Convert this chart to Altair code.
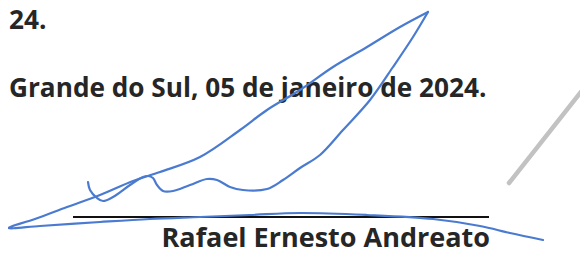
import altair as alt
import pandas as pd

# Blue signature, stroke A: long upper line down to the left tip, then the bottom sweep
sig_a_x = [428, 400, 367, 333, 300, 267, 240, 200, 160, 133, 100, 67, 35, 8,
           40, 100, 150, 200, 250, 300, 367, 433, 480, 510, 543]
sig_a_y = [12, 27, 47, 67, 90, 110, 130, 157, 172, 181, 195, 207, 219, 228,
           226, 222, 219, 217, 215, 213, 215, 219, 226, 233, 240]

# Blue signature, stroke B: from the apex down the right side, the waves and the hook
sig_b_x = [428, 413, 393, 370, 343, 320, 300, 283, 267, 243, 230, 217, 207, 190,
           173, 163, 157, 153, 148, 143, 130, 113, 103, 97, 90, 88]
sig_b_y = [12, 37, 67, 100, 130, 155, 168, 180, 189, 190, 187, 180, 179, 185,
           191, 191, 185, 178, 176, 177, 185, 197, 201, 198, 190, 182]

# Grey pencil stroke at the right
gray_x = [592, 509]
gray_y = [78, 183]

# Signature rule
rule_x = [73, 489]
rule_y = [217, 217]

# Left-aligned texts (date line) and the right-aligned name under the rule
left_texts = ["24.", "Grande do Sul, 05 de janeiro de 2024."]
left_x = [9, 9]
left_y = [29, 97]
name_text = ["Rafael Ernesto Andreato"]
name_x = [490]
name_y = [247]

rows = []
for name, xs_, ys_ in [("a", sig_a_x, sig_a_y), ("b", sig_b_x, sig_b_y)]:
    for i, (x, y) in enumerate(zip(xs_, ys_)):
        rows.append({"x": x, "y": y, "stroke": name, "i": i})
sig_df = pd.DataFrame(rows)
gray_df = pd.DataFrame({"x": gray_x, "y": gray_y, "i": range(len(gray_x))})
rule_df = pd.DataFrame({"x": [rule_x[0]], "x2": [rule_x[1]], "y": [rule_y[0]]})
left_df = pd.DataFrame({"t": left_texts, "x": left_x, "y": left_y})
name_df = pd.DataFrame({"t": name_text, "x": name_x, "y": name_y})

xs = alt.Scale(domain=[8, 580], nice=False, zero=False)
ys = alt.Scale(domain=[8, 254], nice=False, zero=False, reverse=True)
X = alt.X("x:Q", scale=xs, axis=None)
Y = alt.Y("y:Q", scale=ys, axis=None)

text_style = dict(baseline="alphabetic", font="Open Sans", fontWeight="bold",
                  color="#262626")

left_layer = alt.Chart(left_df).mark_text(
    align="left", fontSize=26.2, **text_style
).encode(X, Y, text="t:N")

name_layer = alt.Chart(name_df).mark_text(
    align="right", fontSize=27, **text_style
).encode(X, Y, text="t:N")

rule_layer = alt.Chart(rule_df).mark_rule(color="#111111", strokeWidth=2.2).encode(
    X, alt.X2("x2:Q"), Y
)

gray_layer = alt.Chart(gray_df).mark_line(
    color="#c2c2c2", strokeWidth=4.5, strokeCap="round"
).encode(X, Y, order="i:Q")

sig_layer = alt.Chart(sig_df).mark_line(
    color="#4a7bd0", strokeWidth=2.2, interpolate="catmull-rom",
    strokeCap="round", strokeJoin="round"
).encode(X, Y, detail="stroke:N", order="i:Q")

chart = alt.layer(left_layer, name_layer, rule_layer, gray_layer, sig_layer).properties(
    width=572, height=246, autosize=alt.AutoSizeParams(type="none"), padding=0,
    background="white"
).configure_view(stroke=None)

chart.save("out.html", embed_options={"renderer": "svg", "actions": False})
